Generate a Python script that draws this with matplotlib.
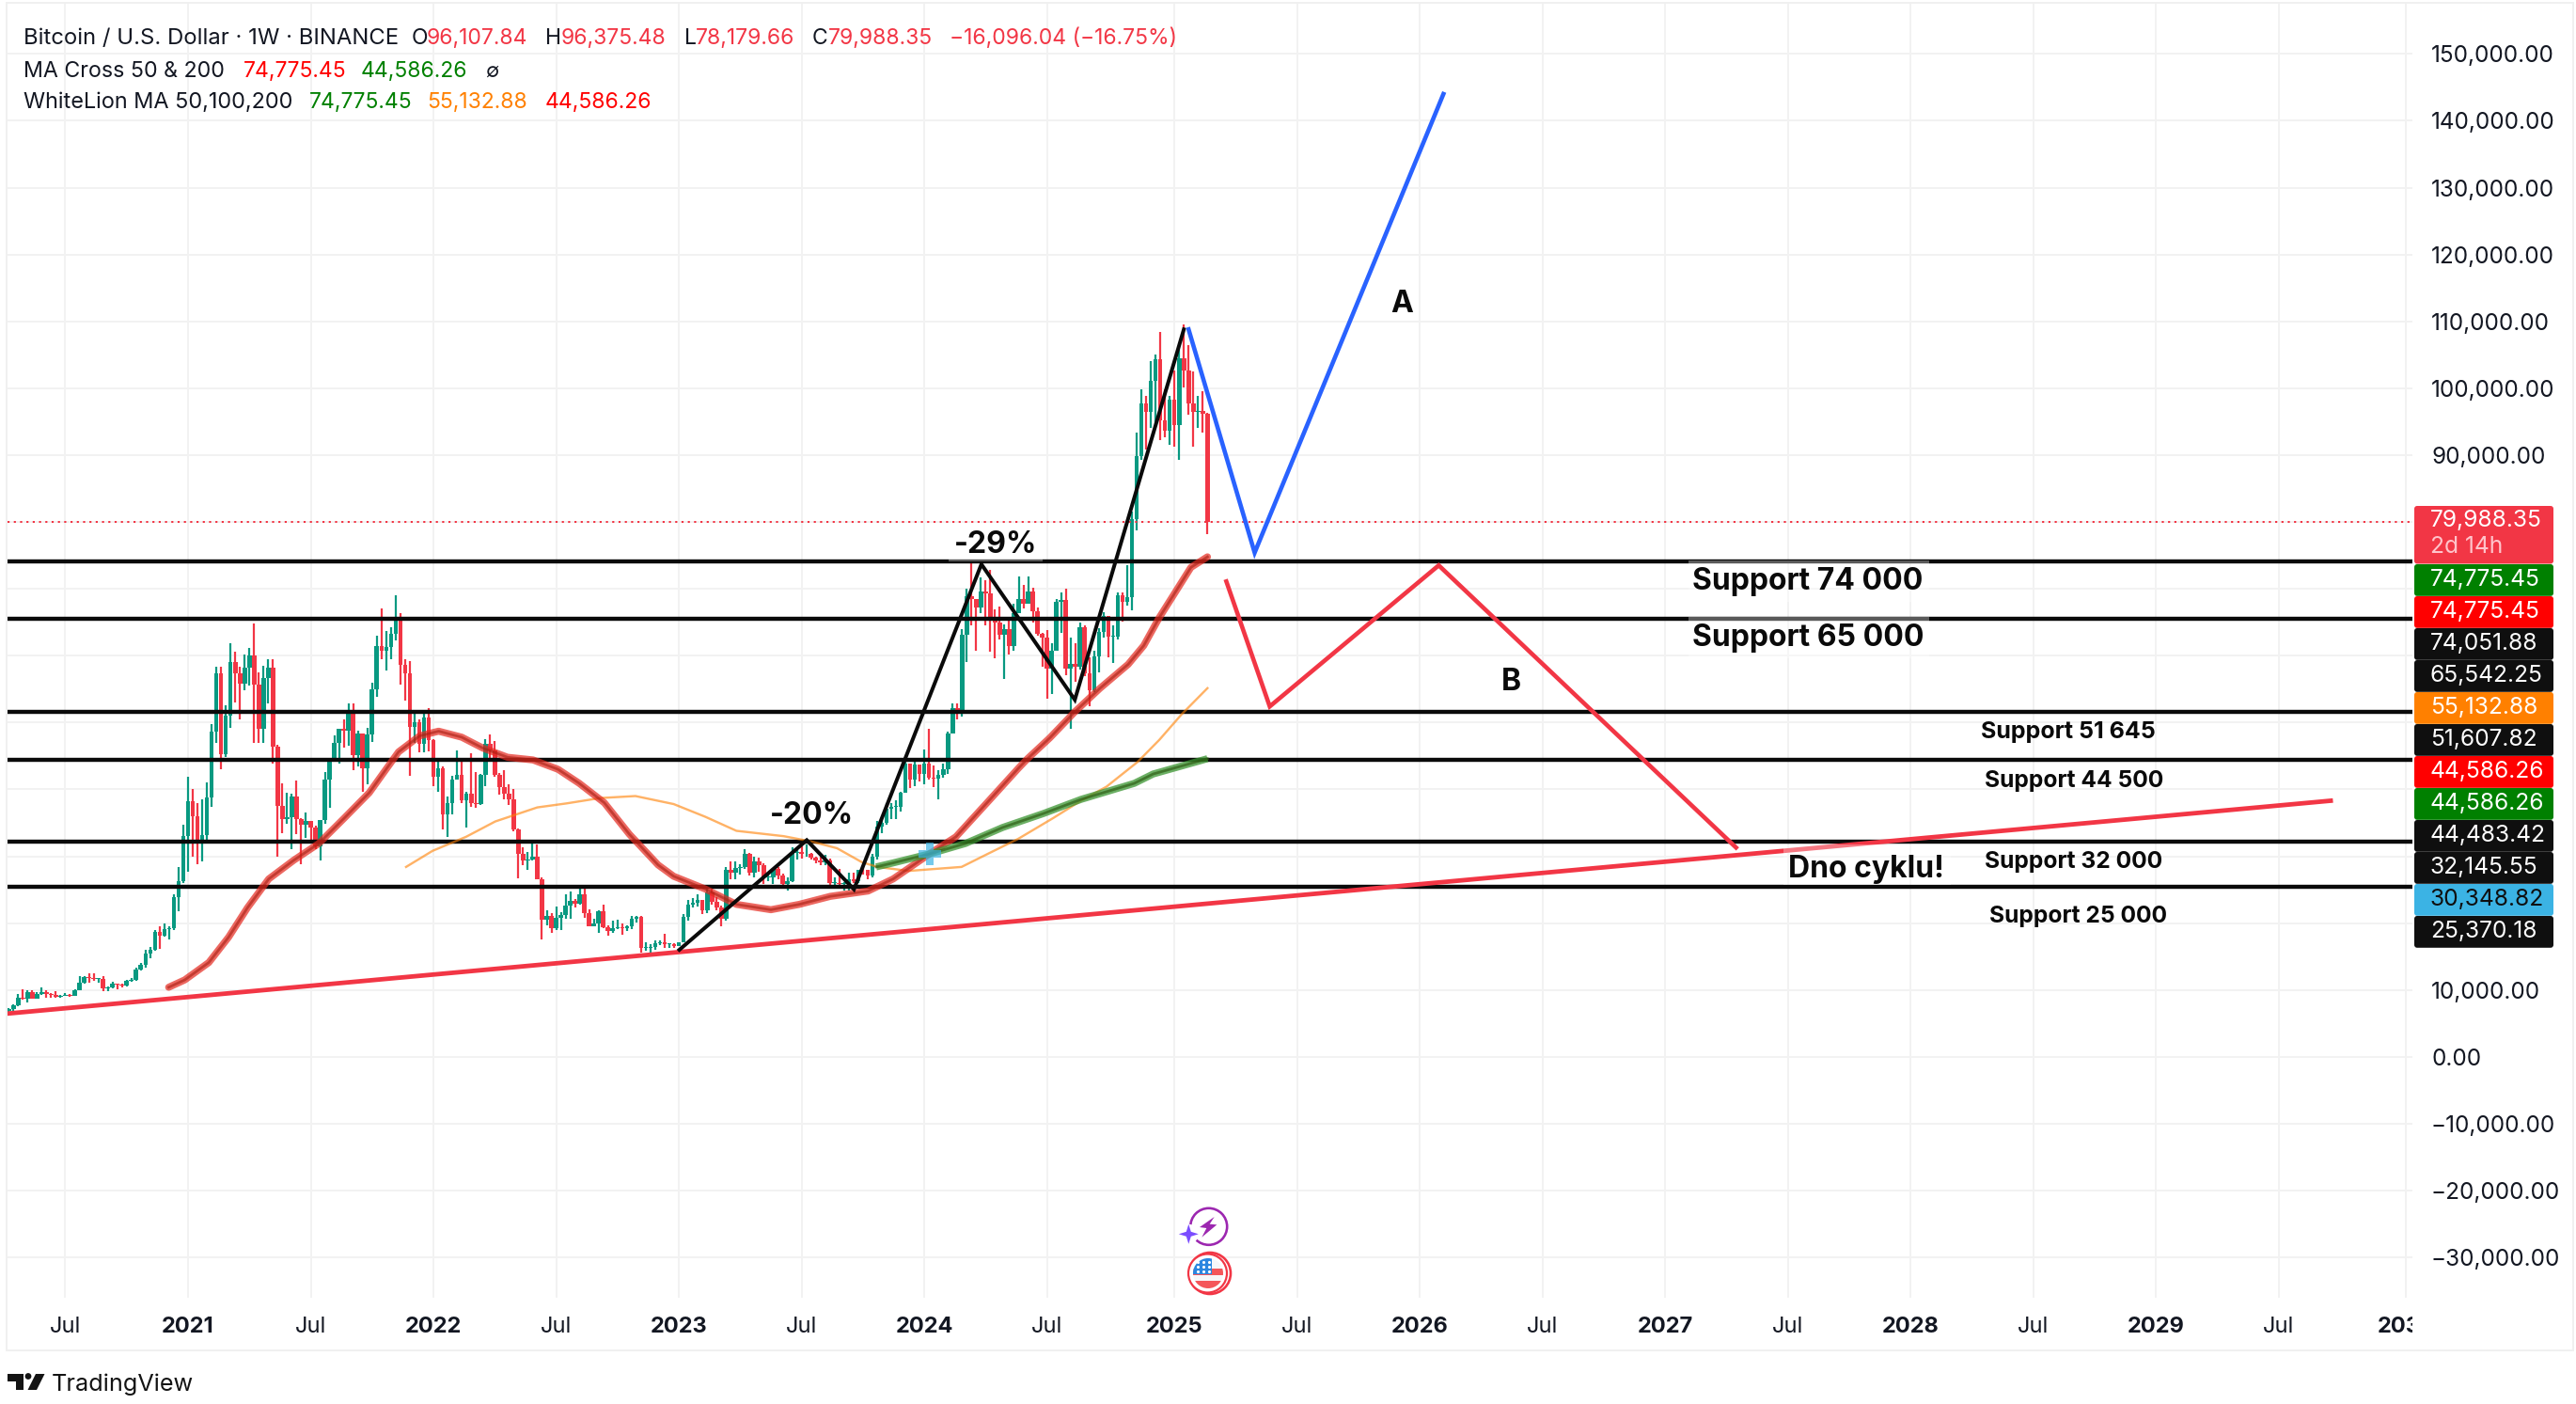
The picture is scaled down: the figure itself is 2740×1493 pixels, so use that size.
import numpy as np
import pandas as pd
import matplotlib
matplotlib.use("Agg")
import matplotlib.pyplot as plt
from matplotlib.patches import Rectangle, Circle, Polygon, FancyBboxPatch
from matplotlib.transforms import Bbox, TransformedBbox

plt.rcParams['font.family'] = ['Inter', 'DejaVu Sans']

# ---- weekly candles (first bar: week of 2020-04-13) ----
first_open = 6860
closes = [7120,7700,8890,8720,9680,8720,9450,9660,9380,9300,9000,9070,9230,9160,9930,11100,11900,11850,11650,11700,
 10250,10330,10930,10770,10660,11370,11500,13030,13760,15480,15970,18680,18180,19150,19270,23850,26270,33000,
 38200,36000,32000,33100,38800,48600,57400,45200,51000,59000,57300,55800,58200,60000,55700,49000,56600,58200,46400,37500,35600,
 35800,39000,35600,34700,35300,34250,31500,35400,41500,44600,47000,49000,48800,51750,45100,48300,43200,48200,54900,61500,60800,61300,
 63300,65500,58600,57300,49400,50000,46800,50700,47300,
 41900,43100,36300,37900,41400,42200,38400,39400,38000,37800,42200,46800,45800,42150,40400,39400,38450,34000,30300,29400,29500,29900,26600,20550,21000,19300,
 20800,21200,22600,23300,22900,24300,21500,19550,20000,21800,19400,18800,19300,19400,19250,19570,20600,20900,16300,16300,16400,17000,17100,16800,16800,16600,
 17100,20900,22700,23000,23400,21850,24600,23200,22400,20600,27950,27500,28200,28350,30300,27600,29250,28700,26800,26850,28100,27100,25850,26340,30500,30600,
 30300,30300,29800,29300,29050,29300,26000,26000,25850,25850,26500,26250,27950,27900,27150,29900,34500,35000,37050,37400,37450,39500,43800,41400,43700,42300,
 43900,41700,41580,42100,43000,48300,52100,51700,63100,68900,68400,67200,69650,69300,65700,64900,63100,64000,61500,66300,68500,67750,69650,66600,63200,62700,
 58000,60800,68100,68300,58000,58800,58400,64200,57300,54850,59900,63600,65900,62800,62900,69000,68000,68700,80400,89800,97700,96400,101100,104400,95200,93700,98300,
 94500,104500,102600,97700,96450,96600,96107.84,79988.35]
highs = [7300,7790,9460,10070,9950,9940,9740,10380,10000,9600,9770,9300,9480,9350,10150,12123,12050,12480,12480,11850,
 12090,10580,11200,10990,10950,11500,11720,13350,14100,15960,16480,18950,19480,19900,19550,24300,28400,34780,
 41950,40100,38000,38500,41000,49700,58300,58400,52600,61800,60600,58400,60200,61200,64850,57500,58500,59500,59500,46600,40900,
 39500,39380,41300,35750,36600,35100,34600,35400,42600,44700,48100,49000,50500,52900,52900,48800,48000,49200,56000,63000,67000,63700,
 64300,69000,66300,59400,59200,51900,50400,51800,52100,
 47500,44400,43500,38900,42000,45800,44700,39700,45400,42600,42300,47500,48200,47200,42400,42900,40800,40000,34200,31400,30600,32400,31700,26900,21900,21500,
 22500,21700,24300,24700,23600,25200,25200,22000,20600,21900,22800,19700,20400,20500,19950,19700,21050,21000,21000,17200,16900,17400,17450,18400,17000,16950,
 17200,21300,23400,23800,24250,23400,25200,25250,23900,22600,28400,29200,29200,28800,31000,30500,30000,29800,28900,27700,28200,28400,27400,26800,31400,31000,
 31500,31800,30450,30000,30000,30250,29700,26800,28150,26100,27500,27500,28000,28600,28000,30300,35300,35900,38000,37980,38400,39700,44700,43400,44700,43600,
 45900,49000,43550,42800,43900,48600,52800,52900,64000,70000,73800,68100,71700,71300,72800,66900,67300,64700,65500,67700,71900,70600,71900,70200,67200,63400,
 63800,61800,68400,69400,70000,62700,61800,65000,64500,59800,60700,64100,66500,65500,64500,69400,69500,73600,81500,93400,99800,98900,104000,105000,108350,99900,98900,
 102700,106300,109600,106400,102500,98800,99500,96375.48]
lows = [6460,6750,7620,8520,8100,8700,8630,9280,8900,8900,8830,8900,9050,9000,9130,9900,11000,11150,11400,11120,
 9800,9880,10220,10130,10350,10500,11200,11400,12950,13300,14800,15800,16200,18000,17600,19000,21800,26000,
 27700,30000,28800,29200,32300,37400,47000,43000,44900,49200,53000,50400,54800,55500,47000,47000,47000,52900,43800,30000,33400,
 34800,31000,33300,28800,32700,32100,31000,29300,34800,37300,44200,43900,46300,46500,42800,43400,39600,40750,47100,53800,59500,57800,
 59500,62300,55600,53250,42000,47000,45500,45500,45700,
 40500,39650,34000,32900,36200,41700,37900,34300,37400,37200,37600,40500,44200,41900,39200,38500,37600,33700,26700,28600,28000,29300,26560,17600,19700,18600,
 19000,18900,20700,20700,22400,22700,20800,19500,19500,18500,19300,18100,18500,19100,18200,18800,19100,20050,15600,15800,15500,16000,16700,16300,16300,16300,
 16500,17300,20400,22300,22500,21350,21500,22700,21950,19500,20400,26600,26500,27200,28100,27100,26900,27700,25800,26300,25800,26500,25300,24800,26200,29500,
 29700,29900,29500,28900,28600,28700,25200,25400,25300,24900,24900,26000,26000,27200,26500,26900,29500,33400,34700,35500,35600,36700,39900,40200,40500,41200,
 40750,41500,40300,38500,41800,42300,48300,50500,50900,59000,64500,60800,66400,64500,60600,59600,62400,56500,60200,60700,66300,67100,68500,65000,63000,58400,
 53500,54300,62400,63400,57100,49000,56100,57900,57000,52500,54600,57500,62700,59800,58900,62400,65100,67500,66800,78800,89300,90800,94100,94200,92200,92700,91500,
 91200,89250,100100,96100,91200,94100,93400,78179.66]
# weeks counted from the week of 2021-01-04
first_bar_week = -38

# ---- indicators: (week, price) ----
ma50_w = [-4.1,-0.7,4.4,8.6,12.6,17.1,22.4,27.7,33.1,38.4,44.6,49.1,53.1,58,62.4,67.7,73.1,78.4,82.9,88.2,93.5,99.6,102.9,109.6,116.2,123.5,129.5,136.1,144.1,149.4,156,157.4,162.7,169.3,176,177.9,182.6,187.9,193.2,199.2,202.5,205.8,209.2,212.5,216]
ma50_v = [10400,11500,14100,17900,22300,26600,29400,31900,35700,39500,45600,48000,48700,47800,46200,44800,44400,43000,40900,38000,33300,28700,27000,25100,22800,22000,22800,24000,24800,26600,29800,30500,32900,38000,43200,44600,47700,51600,55100,58700,61500,65700,69500,73200,74775]
ma100_w = [46.2,51.8,58.9,65.1,74,80.2,87.3,94.8,102.9,109.6,116.2,126.2,132.1,137.5,142.8,146.1,152.7,163.9,169.3,175.9,183.3,189.2,194.6,201.2,205.8,210.5,216]
ma100_v = [28400,30800,32900,35200,37300,37900,38700,39000,37800,35900,33800,33000,32200,31200,29100,28400,27800,28400,30300,32600,35700,38300,40400,44100,47400,51200,55133]
ma200_w = [145.8,149.4,157.4,164.7,172.6,181.3,189.2,200.5,204.5,216]
ma200_v = [28400,29000,30400,31900,34300,36400,38500,40900,42300,44586]
cross_week, cross_value = 157.2, 30348.82

# ---- drawings ----
support_levels = [74051.88, 65542.25, 51607.82, 44483.42, 32145.55, 25370.18]
trend_w = [-38.05, 454]
trend_v = [6480, 38300]
zigzag_w = [104.1, 131.1, 141.1, 168.1, 187.9, 211]
zigzag_v = [16000, 32400, 25050, 73670, 53400, 108800]
scenario_a_w = [212, 226, 266]
scenario_a_v = [108800, 75400, 144000]
scenario_b_w = [220, 229.2, 265, 328]
scenario_b_v = [71100, 52400, 73500, 31300]
last_close = 79988.35

# ---- axis labels ----
y_ticks = list(range(-30000, 150001, 10000))
y_shown = [150000,140000,130000,120000,110000,100000,90000,10000,0,-10000,-20000,-30000]
tick_dates = ['2020-07-06','2021-01-04','2021-07-05','2022-01-03','2022-07-04','2023-01-02','2023-07-03','2024-01-01','2024-07-01','2025-01-06','2025-07-07','2026-01-05','2026-07-06','2027-01-04','2027-07-05','2028-01-03','2028-07-03','2029-01-01','2029-07-02','2030-01-07']
tick_labels = ['Jul','2021','Jul','2022','Jul','2023','Jul','2024','Jul','2025','Jul','2026','Jul','2027','Jul','2028','Jul','2029','Jul','2030']
price_tags = [('74,775.45','#008000'),('74,775.45','#FF0000'),('74,051.88','#0F0F0F'),('65,542.25','#0F0F0F'),('55,132.88','#FF8000'),('51,607.82','#0F0F0F'),('44,586.26','#FF0000'),('44,586.26','#008000'),('44,483.42','#0F0F0F'),('32,145.55','#0F0F0F'),('30,348.82','#3BB3E4'),('25,370.18','#0F0F0F')]

assert len(closes) == len(highs) == len(lows) == 255, (len(closes), len(highs), len(lows))

UP, DOWN = '#089981', '#F23645'
W, H = 2740, 1493
PX = 0.72  # points per pixel at dpi 100
fig = plt.figure(figsize=(W/100, H/100), dpi=100, facecolor='white')
L, R, T, B = 8, 2566, 4, 1380
ax = fig.add_axes([L/W, 1-B/H, (R-L)/W, (B-T)/H])
PXW = 5.02
ax.set_xlim((L-200)/PXW, (R-200)/PXW)
ZERO, PXK = 1123.8, 7.11
ax.set_ylim((ZERO-B)/PXK*1000, (ZERO-T)/PXK*1000)
for s in ax.spines.values():
    s.set_visible(False)

week = np.arange(len(closes)) + first_bar_week
closes = np.array(closes, float); highs = np.array(highs, float); lows = np.array(lows, float)
opens = np.r_[first_open, closes[:-1]]
cols = np.where(closes >= opens, UP, DOWN)

ax.vlines(week, lows, highs, colors=cols, lw=2.2*PX, zorder=3)
ax.bar(week, np.maximum(np.abs(closes-opens), 120), bottom=np.minimum(opens, closes), width=0.92, color=cols, lw=0, zorder=3)

# grid and ticks
base = pd.Timestamp('2021-01-04')
tick_w = [(pd.Timestamp(d)-base).days/7 for d in tick_dates]
ax.set_xticks(tick_w, tick_labels)
ax.set_yticks(y_ticks, [('' if v not in y_shown else (f'{v:,.2f}'.replace('-', '\u2212'))) for v in y_ticks])
ax.yaxis.tick_right()
ax.grid(True, color='#F2F2F2', lw=2*PX, zorder=0)
ax.set_axisbelow(True)
ax.tick_params(axis='both', length=0)
ax.tick_params(axis='y', pad=20*PX, labelsize=17.5, labelcolor='#131722')
ax.tick_params(axis='x', pad=20*PX, labelsize=17, labelcolor='#131722')
for lab in ax.get_yticklabels():
    lab.set_ha('left')
    lab.set_va('center_baseline')
clip = TransformedBbox(Bbox([[0, 0], [R/W, 1]]), fig.transFigure)
for lab in ax.get_xticklabels():
    if lab.get_text() != 'Jul':
        lab.set_fontweight('bold')
    lab.set_clip_box(clip)
    lab.set_clip_on(True)

# supports
for v in support_levels:
    ax.axhline(v, color='#0A0A0A', lw=4.4*PX, zorder=4, solid_capstyle='butt')
ax.axhline(last_close, color=DOWN, lw=2*PX, ls=(0, (1.1, 2.25)), zorder=4)

# indicators
ax.plot(ma100_w, ma100_v, color='#FF8000', lw=2.4*PX, alpha=0.6, zorder=5)
ax.plot(ma50_w, ma50_v, color='#E5281E', lw=7.5*PX, alpha=0.7, zorder=6, solid_capstyle='round')
ax.plot(ma50_w, ma50_v, color='#A81E12', lw=2.8*PX, alpha=0.6, zorder=6)
ax.plot(ma200_w, ma200_v, color='#3A9430', lw=7.5*PX, alpha=0.75, zorder=6, solid_capstyle='butt')
ax.plot(ma200_w, ma200_v, color='#2B5A10', lw=2.8*PX, alpha=0.65, zorder=6)
ax.plot([cross_week], [cross_value], marker='+', ms=24*PX, mew=8*PX, color='#3BB3E4', alpha=0.7, zorder=7, ls='none')

# drawings
ax.plot(trend_w, trend_v, color=DOWN, lw=4.8*PX, zorder=8)
ax.plot(zigzag_w, zigzag_v, color='#0A0A0A', lw=4*PX, zorder=8, solid_joinstyle='miter')
ax.plot(scenario_a_w, scenario_a_v, color='#2962FF', lw=4.6*PX, zorder=8, solid_joinstyle='miter')
ax.plot(scenario_b_w, scenario_b_v, color=DOWN, lw=4.6*PX, zorder=8, solid_joinstyle='miter')

# ---- furniture, in pixel coordinates ----
ov = fig.add_axes([0, 0, 1, 1], facecolor='none', zorder=10)
ov.set_xlim(0, W); ov.set_ylim(H, 0); ov.axis('off')
ov.add_patch(Rectangle((7, 3), 2730, 1433, fill=False, ec='#F0F0F0', lw=2*PX, zorder=0))

def label(x, y, s, size=16.5, color='#131722', weight='normal', ha='left', **kw):
    return ov.text(x, y, s, fontsize=size, color=color, fontweight=weight, ha=ha, va='center', **kw)

RED = DOWN
label(25, 41, 'Bitcoin / U.S. Dollar \u00b7 1W \u00b7 BINANCE', size=17.2)
for x, s, c in [(438,'O','#131722'),(454,'96,107.84',RED),(580,'H','#131722'),(597,'96,375.48',RED),(728,'L','#131722'),(740,'78,179.66',RED),(864,'C','#131722'),(881,'79,988.35',RED),(1010,'\u221216,096.04 (\u221216.75%)',RED)]:
    label(x, 41, s, color=c)
label(25, 76, 'MA Cross 50 & 200', size=16.7)
label(259, 76, '74,775.45', color='#FF0000')
label(384, 76, '44,586.26', color='#008000')
label(516, 76, '\u2205', size=15)
label(25, 109, 'WhiteLion MA 50,100,200', size=16.9)
label(329, 109, '74,775.45', color='#008000')
label(454, 109, '55,132.88', color='#FF8000')
label(580, 109, '44,586.26', color='#FF0000')

# price tags
ov.add_patch(FancyBboxPatch((2568, 538), 148, 61.5, boxstyle='round,pad=0,rounding_size=3', fc=RED, ec='none'))
label(2585, 553, '79,988.35', size=17.7, color='white')
label(2585, 581, '2d 14h', size=17.7, color='#FFC4CB')
for i, (s, c) in enumerate(price_tags):
    y0 = 600 + i*34
    ov.add_patch(FancyBboxPatch((2568, y0), 148, 33.8, boxstyle='round,pad=0,rounding_size=3', fc=c, ec='none'))
    label(2585, y0+16.5, s, size=17.7, color='#0F0F0F' if c == '#3BB3E4' else 'white')

# translucent label backgrounds
for x0, y0, x1, y1 in [(1796,596,2052,640),(1796,656,2052,700),(1009,556,1109,596.5),(1897,898,2075,941)]:
    ov.add_patch(Rectangle((x0, y0), x1-x0, y1-y0, fc='white', ec='none', alpha=0.33))

for x, y, s, size in [(1491,324,'A',23),(1607,725,'B',23),(863,868,'-20%',23),(1059,579,'-29%',23),
                      (1923,619,'Support 74 000',23),(1923,679,'Support 65 000',23),
                      (2200,778,'Support 51 645',18),(2206,830,'Support 44 500',17.7),(2206,916,'Support 32 000',17.7),(2211,974,'Support 25 000',17.7),
                      (1985,924,'Dno cyklu!',23)]:
    label(x, y, s, size=size, color='#0A0A0A', weight='bold', ha='center')

# event icons
ov.add_patch(Circle((1285.7, 1304.3), 19.5, fc='none', ec='#9C27B0', lw=2.6*PX))
ov.add_patch(Circle((1264.3, 1312.3), 10.5, fc='white', ec='none'))
bolt = [(155,72),(108,105),(130,108),(115,137),(163,97),(140,95)]
ov.add_patch(Polygon([(1240+a/3, 1270+b/3) for a, b in bolt], fc='#9C27B0', ec='none'))
sx, sy = 1264.3, 1312.3
star = [(sx,sy-10.5),(sx+2.5,sy-2.5),(sx+10.5,sy),(sx+2.5,sy+2.5),(sx,sy+10.5),(sx-2.5,sy+2.5),(sx-10.5,sy),(sx-2.5,sy-2.5)]
ov.add_patch(Polygon(star, fc='#7B4DFF', ec='none'))
ov.add_patch(Circle((1287, 1354), 22, fc='white', ec=DOWN, lw=2.6*PX))
ov.add_patch(Circle((1284.5, 1354), 20.5, fc='white', ec=DOWN, lw=2.2*PX))
flag = Circle((1285, 1354), 16, fc='#F7F7F9', ec='none')
ov.add_patch(flag)
for r in [Rectangle((1269,1349),32,7,fc='#F4565A',ec='none'), Rectangle((1269,1362),32,9,fc='#F4565A',ec='none'), Rectangle((1269,1338),20,17,fc='#2B86E0',ec='none')]:
    ov.add_patch(r); r.set_clip_path(flag)
sd = ov.scatter([1274,1280,1286,1274,1280,1286,1274,1280,1286],[1342,1342,1342,1347,1347,1347,1352,1352,1352], s=5, c='white', lw=0, zorder=5)

# logo
ov.add_patch(Polygon([(8,1461),(25,1461),(25,1478),(17,1478),(17,1469),(8,1469)], fc='#131313', ec='none'))
ov.add_patch(Circle((30,1463.5), 3.4, fc='#131313', ec='none'))
ov.add_patch(Polygon([(38,1461),(47.5,1461),(39,1478),(29.5,1478)], fc='#131313', ec='none'))
label(55, 1472, 'TradingView', size=18.2, color='#131313')

fig.savefig('out.png', dpi=100, facecolor='white')
